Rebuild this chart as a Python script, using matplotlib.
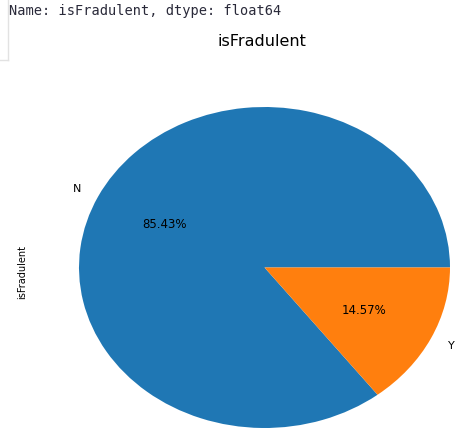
import matplotlib
matplotlib.use("Agg")
import matplotlib.pyplot as plt
from matplotlib.lines import Line2D

labels = ["N", "Y"]
shares = [85.43, 14.57]
colors = ["#1f77b4", "#ff7f0e"]
title = "isFradulent"
header = "Name: isFradulent, dtype: float64"

W, H = 456, 430
fig = plt.figure(figsize=(W / 100, H / 100), dpi=100)

def fx(px):
    return px / W

def fy(py):
    return 1 - py / H

# pie axes spanning the (stretched) ellipse
ax = fig.add_axes([fx(79), fy(428), fx(450) - fx(79), fy(107) - fy(428)])
wedges, texts, autotexts = ax.pie(shares, labels=labels, colors=colors,
                                  autopct="%.2f%%", startangle=0,
                                  textprops={"fontsize": 8.5})
ax.set_aspect("auto")
ax.set_xlim(-1, 1)
ax.set_ylim(-1, 1)
for t in texts:
    t.set_fontsize(8)
for t in autotexts:
    t.set_fontsize(8.5)

fig.text(fx(22), fy(272), title, rotation=90, ha="center", va="center", fontsize=7)
fig.text(fx(262), fy(42), title, ha="center", va="center", fontsize=11.5)
fig.text(fx(9), fy(11), header, ha="left", va="center", fontsize=9.8,
         family="DejaVu Sans Mono", color="#2a2a3a")

# notebook cell border remnants
fig.add_artist(Line2D([fx(8), fx(8)], [fy(0), fy(60)], transform=fig.transFigure,
                      color="#e2e2e2", lw=1))
fig.add_artist(Line2D([fx(0), fx(8)], [fy(60), fy(60)], transform=fig.transFigure,
                      color="#e2e2e2", lw=1))

fig.savefig("out.png", dpi=100)
